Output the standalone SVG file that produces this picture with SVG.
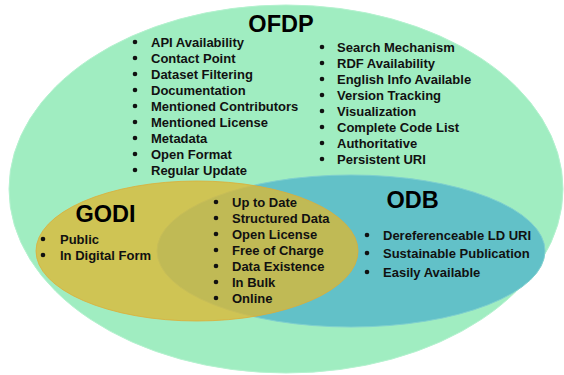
<svg xmlns="http://www.w3.org/2000/svg" width="564" height="375" viewBox="0 0 564 375">
<style>
.t{font-family:"Liberation Sans",Arial,sans-serif;font-weight:bold;font-size:13px;fill:#111}
.h{font-family:"Liberation Sans",Arial,sans-serif;font-weight:bold;font-size:23.5px;fill:#000;text-anchor:middle}
.b{fill:#111}
</style>
<defs>
<circle id="dot" r="2.3"/>
</defs>
<rect width="564" height="375" fill="#fff"/>
<g id="OFDP">
<ellipse cx="286" cy="189" rx="277" ry="184" fill="#a0edc1" stroke="#b4f2cf" stroke-width="1"/>
</g>
<g id="ODB">
<ellipse cx="351" cy="251" rx="194" ry="76" fill="#62c1c8" stroke="#7fd0cf" stroke-width="1"/>
</g>
<g id="GODI">
<ellipse cx="197" cy="251" rx="161" ry="70" fill="#ddb833" fill-opacity="0.77" stroke="#dcae3a" stroke-opacity="0.8" stroke-width="1"/>
</g>
<g id="OFDP-text">
<text class="h" x="281" y="32">OFDP</text>
<g class="b">
<use href="#dot" x="135" y="42"/><use href="#dot" x="135" y="58"/><use href="#dot" x="135" y="74"/><use href="#dot" x="135" y="90"/><use href="#dot" x="135" y="106"/><use href="#dot" x="135" y="122"/><use href="#dot" x="135" y="138"/><use href="#dot" x="135" y="154"/><use href="#dot" x="135" y="170"/>
<use href="#dot" x="322" y="47"/><use href="#dot" x="322" y="63"/><use href="#dot" x="322" y="79"/><use href="#dot" x="322" y="95"/><use href="#dot" x="322" y="111"/><use href="#dot" x="322" y="127"/><use href="#dot" x="322" y="143"/><use href="#dot" x="322" y="159"/>
</g>
<text class="t" x="151" y="46.5">API Availability</text>
<text class="t" x="151" y="62.5">Contact Point</text>
<text class="t" x="151" y="78.5">Dataset Filtering</text>
<text class="t" x="151" y="94.5">Documentation</text>
<text class="t" x="151" y="110.5">Mentioned Contributors</text>
<text class="t" x="151" y="126.5">Mentioned License</text>
<text class="t" x="151" y="142.5">Metadata</text>
<text class="t" x="151" y="158.5">Open Format</text>
<text class="t" x="151" y="174.5">Regular Update</text>
<text class="t" x="337" y="51.5">Search Mechanism</text>
<text class="t" x="337" y="67.5">RDF Availability</text>
<text class="t" x="337" y="83.5">English Info Available</text>
<text class="t" x="337" y="99.5">Version Tracking</text>
<text class="t" x="337" y="115.5">Visualization</text>
<text class="t" x="337" y="131.5">Complete Code List</text>
<text class="t" x="337" y="147.5">Authoritative</text>
<text class="t" x="337" y="163.5">Persistent URI</text>
</g>
<g id="GODI-text">
<text class="h" x="105.5" y="222">GODI</text>
<g class="b"><use href="#dot" x="43" y="239"/><use href="#dot" x="43" y="255"/></g>
<text class="t" x="60" y="243.5">Public</text>
<text class="t" x="60" y="259.5">In Digital Form</text>
</g>
<g id="shared-text">
<g class="b">
<use href="#dot" x="216" y="202"/><use href="#dot" x="216" y="218"/><use href="#dot" x="216" y="234"/><use href="#dot" x="216" y="250"/><use href="#dot" x="216" y="266"/><use href="#dot" x="216" y="282"/><use href="#dot" x="216" y="298"/>
</g>
<text class="t" x="232" y="206.5">Up to Date</text>
<text class="t" x="232" y="222.5">Structured Data</text>
<text class="t" x="232" y="238.5">Open License</text>
<text class="t" x="232" y="254.5">Free of Charge</text>
<text class="t" x="232" y="270.5">Data Existence</text>
<text class="t" x="232" y="286.5">In Bulk</text>
<text class="t" x="232" y="302.5">Online</text>
</g>
<g id="ODB-text">
<text class="h" x="412.5" y="208">ODB</text>
<g class="b"><use href="#dot" x="367" y="235"/><use href="#dot" x="367" y="253"/><use href="#dot" x="367" y="272"/></g>
<text class="t" x="383" y="239.5">Dereferenceable LD URI</text>
<text class="t" x="383" y="257.5">Sustainable Publication</text>
<text class="t" x="383" y="276.5">Easily Available</text>
</g>
<g id="connectors"/>
</svg>
